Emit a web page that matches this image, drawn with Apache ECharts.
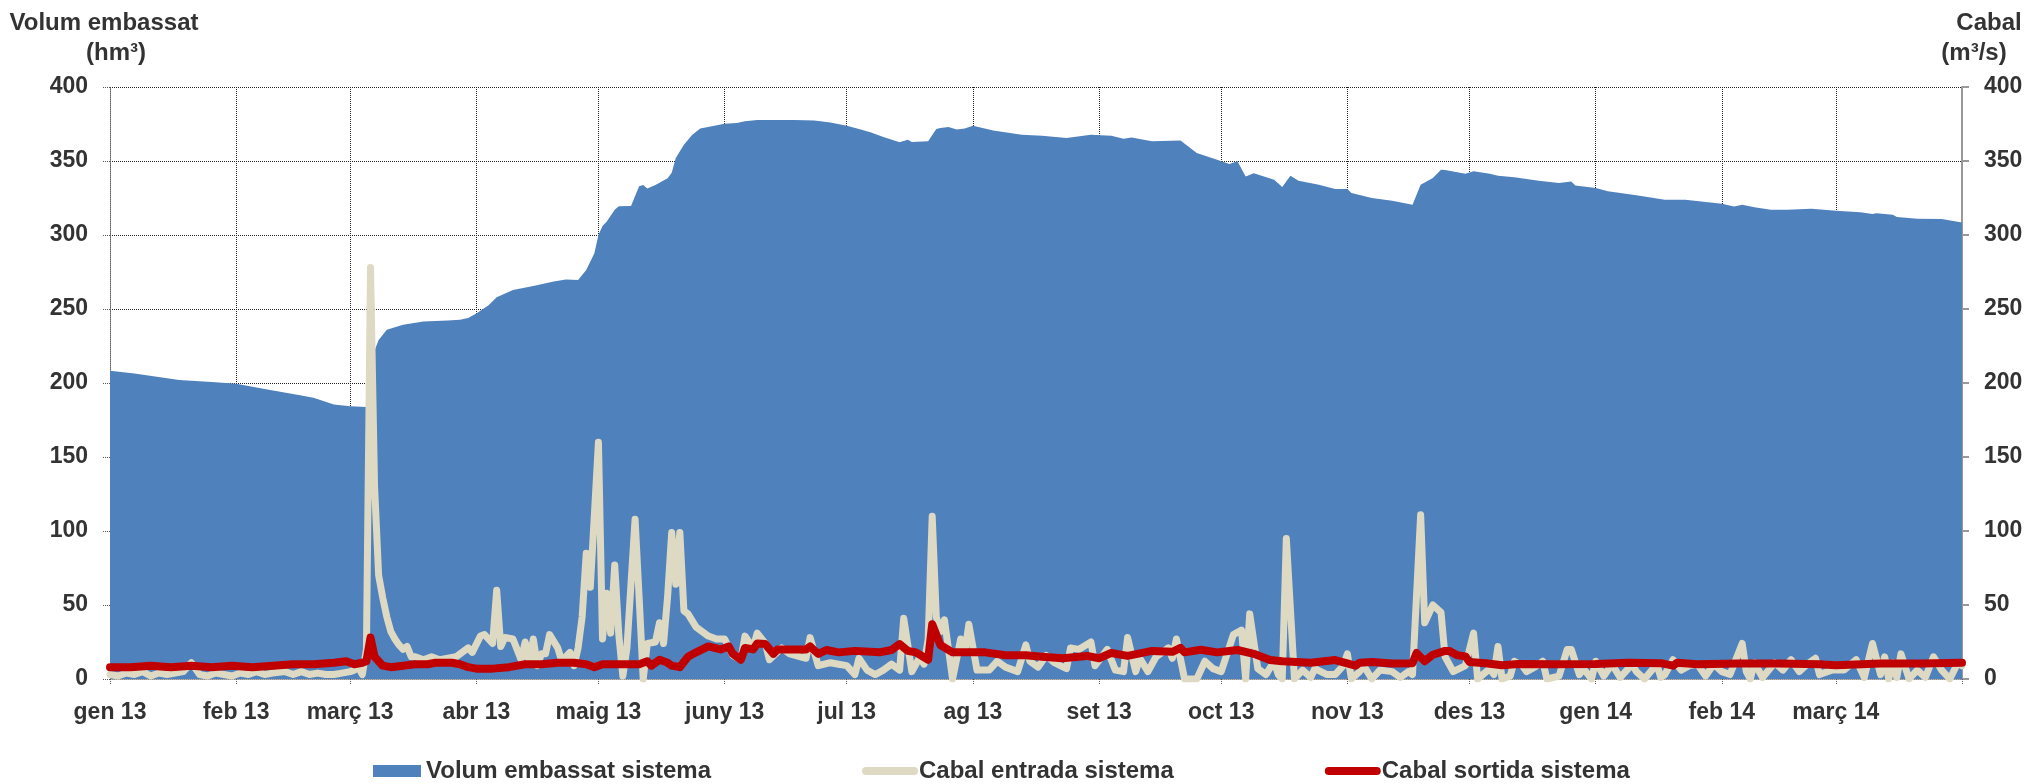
<!DOCTYPE html>
<html lang="ca">
<head>
<meta charset="UTF-8">
<title>Volum embassat i cabals del sistema</title>
<script src="https://cdn.jsdelivr.net/npm/echarts@6/dist/echarts.min.js"></script>
<style>
  html, body { margin: 0; padding: 0; background: #fff; }
  #main { width: 2033px; height: 784px; }
</style>
</head>
<body>
<div id="main"></div>
<script>
// dies comptats des de l'1 de gener de 2013
var volumDies = [0,6,17,25,31,39,46,50,55,59, 63,64,65,66,68,72,77,83,86,88,
  90,93,95,99,104,109,112,115,117,119, 120,121,122,124,125,128,130,131,132,134,
  137,138,139,141,143,145,151,154,156,159, 168,173,177,181,184,187,190,194,196,197,
  201,203,204,206,208,210,212,217,224,229, 235,241,246,249,251,256,263,267,272,275,
  277,279,281,286,288,290,292,297,301,304, 305,310,315,320,322,325,327,328,333,335,
  339,341,345,351,356,359,360,365,368,375, 382,387,396,399,401,404,408,412,418,424,
  430,433,434,438,439,444,450,455];
var volumValors = [208.3,206.5,202,200.6,199.5,195.5,192,190,185.5,184.3, 183.8,200,222,229,236,239.4,241.6,242.3,242.8,244,
  247,252.6,258,262.8,265.5,268.5,270,269.6,276.4,287.6, 300,306,309,317,319.5,319.6,333,333.8,331.5,333.8,
  338.3,342,352,361,367.6,372,375.2,375.6,376.8,377.7, 377.7,377.3,376,373.8,371.6,369.3,366.2,362.6,364.4,362.8,
  363.3,371.6,372.3,373,371.2,372,373.8,370.6,367.7,367, 365.5,367.7,367,365,365.9,363.4,363.9,355.4,350.9,348,
  349.8,339.6,341.8,337.3,332.4,340.1,336.7,334,331.1,331, 328.4,325,323.2,320.5,334,338.5,344.1,343.9,341.4,343,
  341.4,340,339.1,336.7,335.1,336.2,333.5,331.7,329.5,326.8, 323.9,323.9,321.1,319.3,320.5,318.7,317.1,317.1,317.8,316.4,
  315.3,314.2,314.7,313.7,312.2,311,310.8,308.5];

var entradaDies = [0,2,4,6,8,10,12,14,16,18, 20,22,24,26,28,30,32,34,36,38,
  40,43,45,47,49,51,53,55,57,59, 60,61,62,63,64,65,66,67,68,69,
  70,71,72,73,74,75,77,79,81,85, 88,89,91,92,94,95,96,97,99,101,
  102,103,104,105,106,107,108,110,111,113, 114,115,116,117,118,120,121,122,123,124,
  125,126,127,129,130,131,132,134,135,136, 137,138,139,140,141,142,144,147,149,151,
  153,155,156,158,159,161,162,165,167,171, 172,174,177,179,181,183,184,186,188,190,
  192,194,195,197,199,200,201,202,203,204, 205,207,209,210,211,213,216,218,220,223,
  225,226,228,230,232,235,236,238,241,242, 245,247,249,250,252,253,255,257,260,261,
  262,264,267,269,271,273,276,278,279,280, 282,284,286,287,288,289,291,293,295,296,
  299,301,303,304,305,307,308,310,312,315, 317,319,320,322,323,325,327,328,330,333,
  335,336,339,340,341,342,344,345,347,348, 350,352,353,356,358,359,361,362,364,365,
  367,369,371,374,375,377,380,381,382,384, 386,388,390,392,394,396,398,401,402,403,
  404,406,409,411,413,415,417,419,420,423, 426,429,431,433,435,436,437,438,439,440,
  442,444,446,448,450,452,454,455];
var entradaValors = [3,2,4,3,5,2,4,3,4,5, 11,3,2,4,3,2,4,3,5,3,
  4,5,3,5,3,4,3,3,4,5, 6,8,3,20,278,130,70,55,42,32,
  27,23,20,22,15,15,13,15,13,15, 21,18,29,30,24,60,22,28,27,13,
  25,11,27,9,17,17,30,21,12,18, 9,21,42,85,62,160,27,58,31,77,
  30,2,21,108,55,0,24,25,38,24, 56,99,64,99,46,44,35,29,27,27,
  16,13,29,21,31,24,13,21,17,14, 28,9,11,10,9,3,14,6,3,6,
  10,6,41,5,15,10,27,110,42,32, 40,0,27,18,37,6,6,12,8,5,
  23,12,8,16,11,7,21,20,25,9, 20,6,5,28,5,14,5,15,21,14,
  27,0,0,12,7,5,30,33,0,44, 7,3,12,3,0,95,0,6,1,7,
  3,3,9,17,0,5,9,0,6,5, 1,5,3,111,38,50,45,15,5,9,
  31,0,7,3,22,0,2,12,9,5, 8,12,0,2,20,20,3,7,0,12,
  2,10,1,10,5,0,10,1,3,13, 6,9,10,2,10,5,3,24,5,0,
  11,1,11,6,13,5,10,14,3,6, 6,13,1,24,3,15,0,11,1,17,
  0,6,1,15,6,0,11,9];

var sortidaDies = [0,5,10,15,20,25,30,35,40,45, 50,55,58,60,62,63,64,65,67,69,
  72,75,78,80,84,86,88,90,94,98, 102,106,110,114,117,119,121,125,130,132,
  133,135,137,138,140,142,144,147,150,152, 153,155,156,158,159,161,163,164,167,171,
  172,174,176,179,183,189,192,194,196,198, 201,202,204,207,210,215,220,225,229,234,
  240,243,246,250,256,261,263,264,268,272, 277,281,285,288,295,301,306,307,310,315,
  320,321,323,325,328,329,331,333,334,338, 342,346,355,365,373,381,384,385,390,400,
  410,420,424,435,445,455];
var sortidaValors = [8,8,9,8,9,8,9,8,9,10, 10,11,12,10,11,12,28,15,9,8,
  9,10,10,11,11,10,8,7,7,8, 10,10,11,11,10,8,10,10,10,12,
  9,13,11,9,8,15,18,22,20,22, 17,13,21,20,24,23.6,17,20,20,20,
  22,17,19.6,18,19,18,19.6,23.6,19,18, 13,37,23,18,18,18,16,16,15,14,
  15.6,14,17.6,15.6,19,18.4,21,18,19.8,18, 19.6,17,12.8,12,11,12.8,9,11,11.5,10.5,
  10.7,17.6,12,16.4,19,19,16,15.3,11.5,10.7, 9.3,10.2,10,10.2,11,10.7,9,11,10,10.5,
  10.5,10,9.3,10.5,10.5,11];

var mesos = ['gen', 'feb', 'març', 'abr', 'maig', 'juny', 'jul', 'ag', 'set', 'oct', 'nov', 'des'];

var inici = Date.UTC(2013, 0, 1);
var final = Date.UTC(2014, 3, 1);
var DIA = 86400000;
function parells(dies, valors) {
  return dies.map(function (d, i) { return [inici + d * DIA, valors[i]]; });
}

var font = 'Liberation Sans, Arial, sans-serif';
var gris = '#333333';
var titol = { fontSize: 24, fontWeight: 'bold', color: gris, fontFamily: font };

var chart = echarts.init(document.getElementById('main'));
chart.setOption({
  animation: false,
  useUTC: true,
  textStyle: { fontFamily: font },
  title: [
    { text: 'Volum embassat', left: 104, top: 11, padding: 0, textAlign: 'center', textStyle: titol },
    { text: '(hm³)', left: 116, top: 41, padding: 0, textAlign: 'center', textStyle: titol },
    { text: 'Cabal', left: 1989, top: 11, padding: 0, textAlign: 'center', textStyle: titol },
    { text: '(m³/s)', left: 1974, top: 41, padding: 0, textAlign: 'center', textStyle: titol }
  ],
  grid: { left: 110, right: 71, top: 87, bottom: 105, containLabel: false, outerBoundsMode: 'none' },
  legend: {
    left: 373, top: 759, padding: 0,
    itemWidth: 48, itemHeight: 12, itemGap: 151,
    textStyle: { fontSize: 24, fontWeight: 'bold', color: gris, fontFamily: font },
    data: [
      { name: 'Volum embassat sistema', icon: 'rect' },
      { name: 'Cabal entrada sistema', itemStyle: { opacity: 0 }, lineStyle: { width: 8, cap: 'round' } },
      { name: 'Cabal sortida sistema', itemStyle: { opacity: 0 }, lineStyle: { width: 8, cap: 'round' } }
    ]
  },
  xAxis: {
    type: 'time',
    min: inici,
    max: final,
    splitNumber: 15,
    minInterval: 28 * DIA,
    maxInterval: 31 * DIA,
    axisLine: { show: true, lineStyle: { color: '#8c8c8c', type: 'dotted', width: 1 } },
    axisTick: { show: true, length: 6, lineStyle: { color: '#555', type: 'dotted' } },
    axisLabel: {
      margin: 22,
      fontSize: 23, fontWeight: 'bold', color: gris, fontFamily: font,
      formatter: function (v) {
        if (v >= final) return '';
        var d = new Date(v);
        return mesos[d.getUTCMonth()] + ' ' + String(d.getUTCFullYear()).slice(2);
      }
    },
    splitLine: { show: true, lineStyle: { color: '#222', type: 'dotted', width: 1 } }
  },
  yAxis: [
    {
      type: 'value', min: 0, max: 400, interval: 50, position: 'left',
      axisLine: { show: true, lineStyle: { color: '#8c8c8c', type: 'dotted' } },
      axisTick: { show: true, length: 7, lineStyle: { color: '#555', type: 'dotted' } },
      axisLabel: { margin: 22, fontSize: 23, fontWeight: 'bold', color: gris, fontFamily: font },
      splitLine: { show: true, lineStyle: { color: '#222', type: 'dotted', width: 1 } }
    },
    {
      type: 'value', min: 0, max: 400, interval: 50, position: 'right',
      axisLine: { show: true, lineStyle: { color: '#999', width: 2 } },
      axisTick: { show: true, length: 7, lineStyle: { color: '#999', width: 2 } },
      axisLabel: { margin: 22, fontSize: 23, fontWeight: 'bold', color: gris, fontFamily: font },
      splitLine: { show: false }
    }
  ],
  series: [
    {
      name: 'Volum embassat sistema',
      type: 'line',
      yAxisIndex: 0,
      data: parells(volumDies, volumValors),
      symbol: 'none',
      itemStyle: { color: '#4F81BD' },
      lineStyle: { width: 0, color: '#4F81BD' },
      areaStyle: { color: '#4F81BD', opacity: 1 }
    },
    {
      name: 'Cabal entrada sistema',
      type: 'line',
      yAxisIndex: 1,
      data: parells(entradaDies, entradaValors),
      symbol: 'none',
      itemStyle: { color: '#DDD9C3' },
      lineStyle: { width: 7, color: '#DDD9C3', join: 'round', cap: 'round' }
    },
    {
      name: 'Cabal sortida sistema',
      type: 'line',
      yAxisIndex: 1,
      data: parells(sortidaDies, sortidaValors),
      symbol: 'none',
      itemStyle: { color: '#C00000' },
      lineStyle: { width: 8, color: '#C00000', join: 'round', cap: 'round' }
    }
  ]
});
</script>
</body>
</html>
